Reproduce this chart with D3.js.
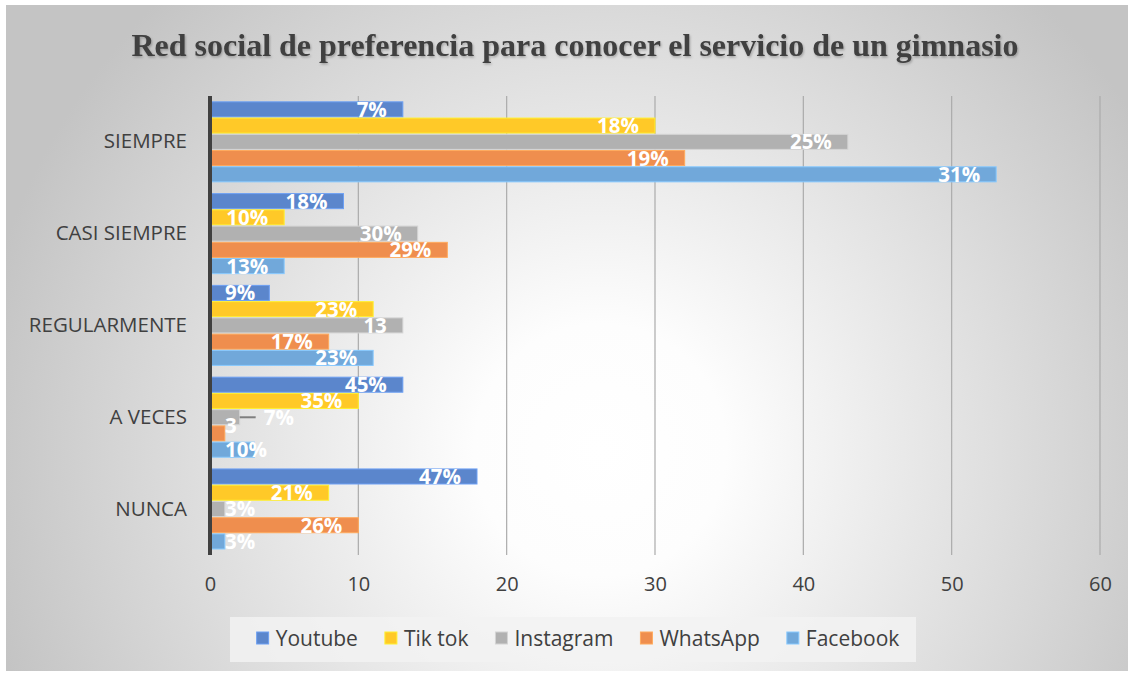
<!DOCTYPE html>
<html>
<head>
    <meta charset="utf-8">
    <title>red-social-gimnasio</title>
    <script type="text/javascript" src="https://cdn.jsdelivr.net/npm/d3@7"></script>
    <style type="text/css">
        html, body { margin: 0; padding: 0; background: #fff; }
        svg text { font-family: "Open Sans", "DejaVu Sans", sans-serif; }
    </style>
</head>
<body>
<div id="app"></div>

<script type="text/javascript">
    // categorias (de arriba a abajo)
    var categories = ['SIEMPRE', 'CASI SIEMPRE', 'REGULARMENTE', 'A VECES', 'NUNCA'];
    var seriesNames = ['Youtube', 'Tik tok', 'Instagram', 'WhatsApp', 'Facebook'];

    // valores
    var youtube = [13, 9, 4, 13, 18];
    var tiktok = [30, 5, 11, 10, 8];
    var instagram = [43, 14, 13, 2, 1];
    var whatsapp = [32, 16, 8, 1, 10];
    var facebook = [53, 5, 11, 3, 1];

    // etiquetas de datos
    var youtubeLabels = ['7%', '18%', '9%', '45%', '47%'];
    var tiktokLabels = ['18%', '10%', '23%', '35%', '21%'];
    var instagramLabels = ['25%', '30%', '13', '7%', '3%'];
    var whatsappLabels = ['19%', '29%', '17%', '3', '26%'];
    var facebookLabels = ['31%', '13%', '23%', '10%', '3%'];

    var xTicks = [0, 10, 20, 30, 40, 50, 60];

    !function () {
        var seriesValues = [youtube, tiktok, instagram, whatsapp, facebook];
        var seriesLabels = [youtubeLabels, tiktokLabels, instagramLabels, whatsappLabels, facebookLabels];
        var colors = ['#5b86cc', '#ffc928', '#b1b1b1', '#ef8e4e', '#71a8da'];

        var w = 1133, h = 673;
        var svg = d3.select('#app').append('svg').attr('width', w).attr('height', h);
        var defs = svg.append('defs');

        // fondo con degradado radial
        var grad = defs.append('radialGradient').attr('id', 'bg')
            .attr('gradientUnits', 'userSpaceOnUse')
            .attr('cx', 600).attr('cy', 450).attr('r', 630);
        grad.append('stop').attr('offset', '0').attr('stop-color', '#ffffff');
        grad.append('stop').attr('offset', '0.2').attr('stop-color', '#fdfdfd');
        grad.append('stop').attr('offset', '1').attr('stop-color', '#c4c4c4');

        var shadow = defs.append('filter').attr('id', 'tshadow')
            .attr('x', '-5%').attr('y', '-30%').attr('width', '110%').attr('height', '160%');
        shadow.append('feDropShadow').attr('dx', 1).attr('dy', 1.5).attr('stdDeviation', 1)
            .attr('flood-color', '#000').attr('flood-opacity', 0.25);

        svg.append('rect').attr('x', 6).attr('y', 5).attr('width', 1122).attr('height', 666)
            .attr('fill', 'url(#bg)');

        // titulo
        svg.append('text')
            .attr('x', 575).attr('y', 56)
            .attr('text-anchor', 'middle')
            .style('font-family', '"Liberation Serif", "Times New Roman", serif')
            .style('font-weight', 'bold')
            .style('font-size', '32px')
            .attr('fill', '#404040')
            .attr('filter', 'url(#tshadow)')
            .text('Red social de preferencia para conocer el servicio de un gimnasio');

        // escalas
        var x = d3.scaleLinear().domain([0, 60]).range([210, 1100]);
        var y = d3.scaleBand().domain(categories).range([96, 555])
            .paddingInner(0.115).paddingOuter(0.058);
        var ySub = d3.scaleBand().domain(seriesNames).range([0, y.bandwidth()]);

        // lineas de cuadricula
        svg.append('g').selectAll('line')
            .data(xTicks.slice(1))
            .enter()
            .append('line')
            .attr('x1', function (d) { return x(d); })
            .attr('x2', function (d) { return x(d); })
            .attr('y1', 96).attr('y2', 555)
            .attr('stroke', '#ababab').attr('stroke-width', 1.2);

        // eje x (solo etiquetas)
        var xAxis = svg.append('g')
            .attr('transform', 'translate(0,555)')
            .call(d3.axisBottom(x).tickValues(xTicks).tickSize(0).tickPadding(22));
        xAxis.select('.domain').remove();
        xAxis.selectAll('text')
            .style('font-size', '20px')
            .attr('fill', '#404040');

        // eje y
        var yAxis = svg.append('g')
            .attr('transform', 'translate(210,0)')
            .call(d3.axisLeft(y).tickSize(0).tickPadding(23));
        yAxis.select('.domain').remove();
        yAxis.selectAll('text')
            .style('font-size', '20.5px')
            .attr('fill', '#404040');

        // barras
        var rows = [];
        categories.forEach(function (c, ci) {
            seriesNames.forEach(function (s, si) {
                rows.push({cat: c, ci: ci, series: s, si: si,
                    value: seriesValues[si][ci], label: seriesLabels[si][ci]});
            });
        });

        var bh = ySub.bandwidth();
        svg.append('g').selectAll('rect')
            .data(rows)
            .enter()
            .append('rect')
            .attr('x', x(0))
            .attr('y', function (d) { return y(d.cat) + ySub(d.series) + 0.5; })
            .attr('width', function (d) { return x(d.value) - x(0); })
            .attr('height', bh - 1.2)
            .attr('fill', function (d) { return colors[d.si]; })
            .attr('stroke', function (d) { return d3.color(colors[d.si]).brighter(0.5); })
            .attr('stroke-width', 1);

        // linea del eje vertical
        svg.append('line')
            .attr('x1', x(0)).attr('x2', x(0))
            .attr('y1', 96).attr('y2', 555)
            .attr('stroke', '#404040').attr('stroke-width', 4);

        // etiquetas de datos
        var lg = svg.append('g');
        rows.forEach(function (d) {
            var cy = y(d.cat) + ySub(d.series) + bh / 2;
            var t = lg.append('text')
                .attr('y', cy)
                .attr('dy', '0.36em')
                .style('font-size', '20.5px')
                .style('font-weight', 'bold')
                .attr('fill', '#ffffff')
                .text(d.label);
            var tw = t.node().getComputedTextLength();
            var left = Math.max(x(d.value) - 16 - tw, x(0) + 15);

            // etiqueta desplazada con linea guia (Instagram, A VECES)
            if (d.cat === 'A VECES' && d.series === 'Instagram') {
                left = x(d.value) + 24;
                lg.insert('line', 'text')
                    .attr('x1', x(d.value)).attr('x2', x(d.value) + 16)
                    .attr('y1', cy).attr('y2', cy)
                    .attr('stroke', '#7f7f7f').attr('stroke-width', 2);
            }
            if (d.cat === 'A VECES' && d.series === 'WhatsApp') {
                t.attr('y', cy - 8);
            }
            t.attr('x', left);
        });

        // leyenda
        var legend = svg.append('g');
        legend.append('rect')
            .attr('x', 230).attr('y', 617).attr('width', 686).attr('height', 45)
            .attr('fill', '#f2f2f2').attr('fill-opacity', 0.85);

        var items = legend.selectAll('g.item')
            .data(seriesNames)
            .enter()
            .append('g').attr('class', 'item');
        items.append('rect')
            .attr('width', 12).attr('height', 12)
            .attr('y', 632)
            .attr('fill', function (d, i) { return colors[i]; })
            .attr('stroke', function (d, i) { return d3.color(colors[i]).brighter(0.5); });
        items.append('text')
            .attr('y', 638).attr('dy', '0.36em')
            .style('font-size', '21px')
            .attr('fill', '#404040')
            .text(function (d) { return d; });

        var widths = [];
        items.selectAll('text').each(function () { widths.push(this.getComputedTextLength()); });
        var gap = 27, total = 0;
        widths.forEach(function (tw, i) { total += 19 + tw + (i < widths.length - 1 ? gap : 0); });
        var cx = 578 - total / 2;
        items.each(function (d, i) {
            var g = d3.select(this);
            g.select('rect').attr('x', cx);
            g.select('text').attr('x', cx + 19);
            cx += 19 + widths[i] + gap;
        });
    }();
</script>
</body>
</html>
